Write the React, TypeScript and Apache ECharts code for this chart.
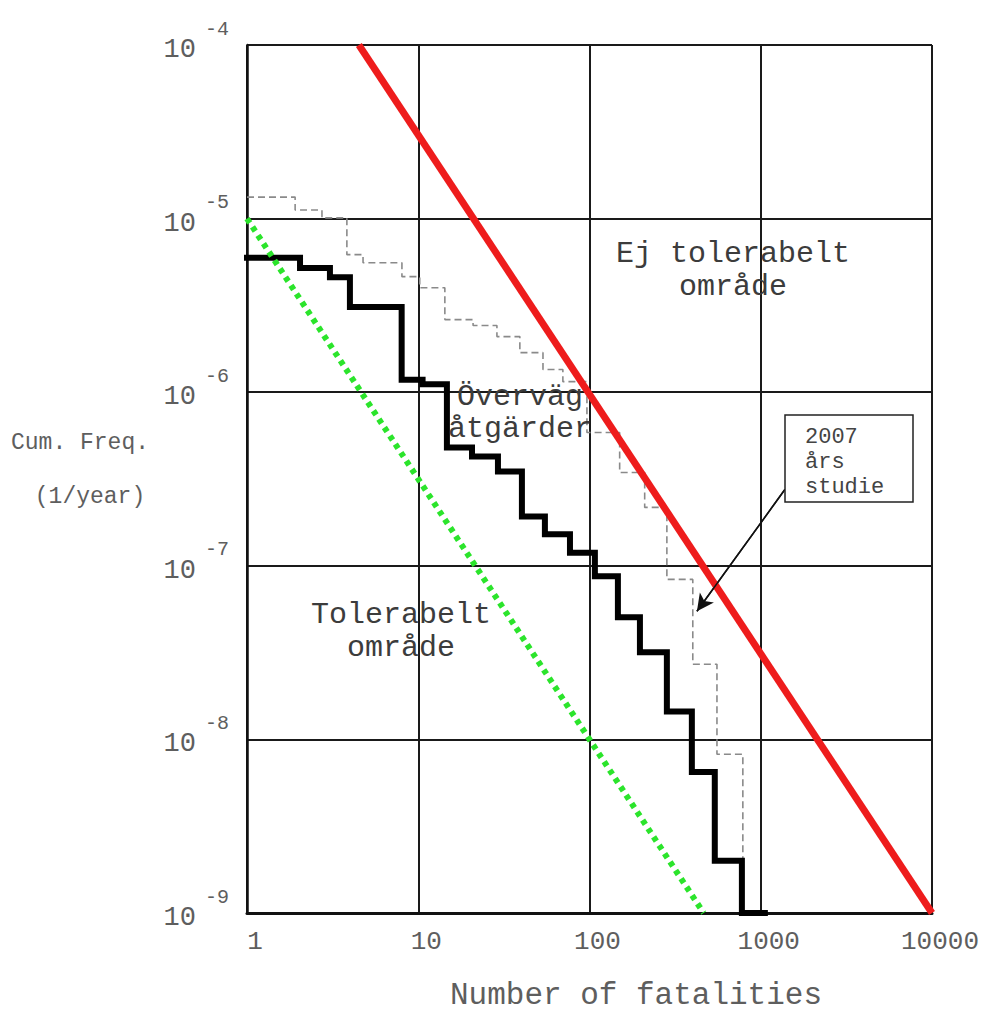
import React, { useEffect, useRef } from "react";
import * as echarts from "echarts";

// ---- Data ----
const xMin = 1;
const xMax = 10000;
const yMin = 1e-9;
const yMax = 1e-4;

// 2007 study (thick black step curve): fatalities N and cumulative frequency F
const studyN = [1, 2.04, 3.05, 3.99, 8.0, 10.6, 14.7, 20.6, 29.2, 40.3, 54.9, 76.9, 107.5, 146.5, 197, 283, 396, 539, 776, 1057];
const studyF = [5.95e-6, 5.2e-6, 4.6e-6, 3.1e-6, 1.18e-6, 1.11e-6, 4.8e-7, 4.26e-7, 3.49e-7, 1.92e-7, 1.52e-7, 1.19e-7, 8.7e-8, 5.05e-8, 3.18e-8, 1.45e-8, 6.5e-9, 2.0e-9, 1e-9, 1e-9];

// earlier study (thin grey dashed step curve)
const earlierN = [1, 1.91, 2.74, 3.83, 4.76, 8.03, 10.2, 14.3, 20.9, 28.8, 39.2, 53.5, 69.9, 96.6, 150, 210, 283, 401, 555, 786];
const earlierF = [1.33e-5, 1.12e-5, 1.01e-5, 6.2e-6, 5.57e-6, 4.63e-6, 4.0e-6, 2.62e-6, 2.42e-6, 2.09e-6, 1.69e-6, 1.35e-6, 1.15e-6, 5.86e-7, 3.45e-7, 2.17e-7, 8.35e-8, 2.71e-8, 8.22e-9, 2.05e-9];

// upper criterion (red) and lower criterion (green dotted)
const upperN = [4.5, 10000];
const upperF = [1e-4, 1e-9];
const lowerN = [1, 464];
const lowerF = [1e-5, 1e-9];

// annotation arrow (data coordinates): from label box to curve
const arrowN = [1383, 424];
const arrowF = [2.75e-7, 5.47e-8];

const xTickLabels: Record<number, string> = { 1: "1", 10: "10", 100: "100", 1000: "1000", 10000: "10000" };

const zip = (a: number[], b: number[]) => a.map((v, i) => [v, b[i]]);

const MONO = '"Liberation Mono", "DejaVu Sans Mono", monospace';

export default function App() {
  const ref = useRef<HTMLDivElement>(null);

  useEffect(() => {
    if (!ref.current) return;
    const chart = echarts.init(ref.current, null, { renderer: "svg" });
    const tickColor = "#5e5e5e";
    const textColor = "#3c3c3c";

    const option: any = {
      animation: false,
      backgroundColor: "#ffffff",
      grid: { left: 247, right: 53, top: 45, bottom: 105, containLabel: false },
      xAxis: {
        type: "log",
        logBase: 10,
        min: xMin,
        max: xMax,
        axisLine: { show: true, lineStyle: { color: "#111", width: 3 } },
        axisTick: { show: false },
        splitLine: { show: true, lineStyle: { color: "#1a1a1a", width: 2 } },
        axisLabel: {
          margin: 16,
          fontFamily: MONO,
          fontSize: 26,
          color: tickColor,
          padding: [0, 0, 0, 16],
          formatter: (v: number) => xTickLabels[Math.round(v)] ?? String(v),
        },
      },
      yAxis: {
        type: "log",
        logBase: 10,
        min: yMin,
        max: yMax,
        axisLine: { show: true, lineStyle: { color: "#111", width: 2.5 } },
        axisTick: { show: false },
        splitLine: { show: true, showMaxLine: false, lineStyle: { color: "#1a1a1a", width: 2 } },
        axisLabel: {
          margin: 18,
          fontFamily: MONO,
          color: tickColor,
          formatter: (v: number) => `{b|10}{e|${Math.round(Math.log10(v))}}`,
          rich: {
            b: { fontFamily: MONO, fontSize: 27, color: tickColor, padding: [10, 0, 0, 0] },
            e: { fontFamily: MONO, fontSize: 20, color: tickColor, padding: [0, 0, 32, 9] },
          },
        },
      },
      series: [
        {
          name: "Tidigare studie",
          type: "line",
          step: "end",
          data: zip(earlierN, earlierF),
          showSymbol: false,
          symbol: "none",
          lineStyle: { color: "#8a8a8a", width: 1.6, type: [7, 4] },
          z: 2,
        },
        {
          name: "2007 års studie",
          type: "line",
          step: "end",
          data: zip(studyN, studyF),
          showSymbol: false,
          symbol: "none",
          lineStyle: { color: "#000", width: 6, join: "miter", cap: "square" },
          z: 3,
        },
        {
          name: "Nedre gräns",
          type: "line",
          data: zip(lowerN, lowerF),
          showSymbol: false,
          symbol: "none",
          lineStyle: { color: "#2be42b", width: 6, type: [5, 5] },
          z: 4,
        },
        {
          name: "Övre gräns",
          type: "line",
          data: zip(upperN, upperF),
          showSymbol: false,
          symbol: "none",
          lineStyle: { color: "#ee1c1c", width: 7 },
          z: 5,
        },
        {
          name: "Pil",
          type: "line",
          data: zip(arrowN, arrowF),
          showSymbol: false,
          symbol: "none",
          lineStyle: { color: "#111", width: 1.5 },
          markLine: {
            silent: true,
            symbol: ["none", "arrow"],
            symbolSize: [13, 17],
            lineStyle: { color: "#111", width: 1.5, type: "solid" },
            label: { show: false },
            data: [[{ coord: [arrowN[0], arrowF[0]] }, { coord: [arrowN[1], arrowF[1]] }]],
          },
          z: 6,
        },
      ],
      graphic: [
        {
          type: "text",
          x: 733,
          y: 270,
          style: { text: "Ej tolerabelt\nområde", font: `30px ${MONO}`, fill: textColor, align: "center", verticalAlign: "middle", lineHeight: 33 },
          z: 10,
        },
        {
          type: "text",
          x: 520,
          y: 413,
          style: { text: "Överväg\nåtgärder", font: `30px ${MONO}`, fill: textColor, align: "center", verticalAlign: "middle", lineHeight: 32 },
          z: 10,
        },
        {
          type: "text",
          x: 401,
          y: 631,
          style: { text: "Tolerabelt\nområde", font: `30px ${MONO}`, fill: textColor, align: "center", verticalAlign: "middle", lineHeight: 33 },
          z: 10,
        },
        {
          type: "rect",
          shape: { x: 785, y: 415, width: 128, height: 87 },
          style: { fill: "#fff", stroke: "#222", lineWidth: 1.5 },
          z: 10,
        },
        {
          type: "text",
          x: 805,
          y: 462,
          style: { text: "2007\nårs\nstudie", font: `22px ${MONO}`, fill: "#444", align: "left", verticalAlign: "middle", lineHeight: 25 },
          z: 11,
        },
        {
          type: "text",
          x: 80,
          y: 443,
          style: { text: "Cum. Freq.", font: `23px ${MONO}`, fill: tickColor, align: "center", verticalAlign: "middle" },
        },
        {
          type: "text",
          x: 90,
          y: 497,
          style: { text: "(1/year)", font: `23px ${MONO}`, fill: tickColor, align: "center", verticalAlign: "middle" },
        },
        {
          type: "text",
          x: 636,
          y: 995,
          style: { text: "Number of fatalities", font: `31px ${MONO}`, fill: tickColor, align: "center", verticalAlign: "middle" },
        },
      ],
    };

    chart.setOption(option);
    return () => chart.dispose();
  }, []);

  return (
    <div
      ref={ref}
      style={{ position: "fixed", left: 0, top: 0, width: 985, height: 1018, background: "#fff" }}
    />
  );
}
